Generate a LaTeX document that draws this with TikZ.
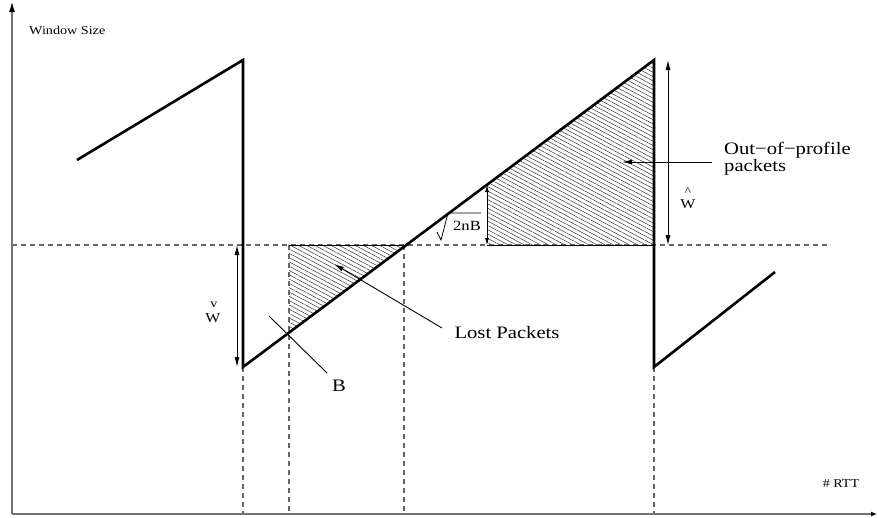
\documentclass[tikz,border=0pt]{standalone}
\usepackage{fontspec}
\setmainfont{Liberation Serif}[FakeStretch=1.18]
\usetikzlibrary{arrows.meta,patterns.meta}

\begin{document}
\begin{tikzpicture}[x=1pt, y=-1pt, >={Latex[length=10pt,width=5pt]},
  every node/.style={inner sep=0pt},
  axis/.style={black!55, line width=1.8pt},
  curve/.style={line width=2.6pt, line join=miter},
  guide/.style={black!60, line width=1.1pt, dash pattern=on 5pt off 4pt},
  hatch/.style={pattern={Lines[angle=-28,distance=3.8pt,line width=0.55pt]}, pattern color=black!75},
  dim/.style={<->, line width=0.9pt},
  lead/.style={line width=0.9pt},
  lbl/.style={font=\fontsize{17.5}{17}\selectfont},
  mid/.style={font=\fontsize{13.5}{14}\selectfont},
  small/.style={font=\fontsize{12}{13}\selectfont}]
  \useasboundingbox (0,0) rectangle (877,517);
  % points of the sawtooth
  \coordinate (s0) at (77,160);
  \coordinate (s1) at (243,60);
  \coordinate (s2) at (243,367);
  \coordinate (s3) at (654,60);
  \coordinate (s4) at (654,367);
  \coordinate (s5) at (775,272);
  \coordinate (lost) at (289,333);
  \coordinate (lb) at (289,245);
  \coordinate (cross) at (404,245);
  \coordinate (q) at (487,185);
  \coordinate (qb) at (487,245);
  \coordinate (sb) at (654,245);
  \coordinate (org) at (12,514);
  \coordinate (ytop) at (12,1);
  \coordinate (xend) at (877,514);
  \coordinate (lvl) at (12,245);
  \coordinate (lvlend) at (830,245);

  % hatched areas
  \fill[hatch] (lb) -- (cross) -- (lost) -- cycle;
  \fill[hatch] (qb) -- (q) -- (s3) -- (sb) -- cycle;

  % dashed guides
  \draw[guide] (lvl) -- (lvlend);
  \draw[guide] (s2) -- (s2 |- org);
  \draw[guide] (lb) -- (lb |- org);
  \draw[guide] (cross) -- (cross |- org);
  \draw[guide] (s4) -- (s4 |- org);
  \draw[line width=0.8pt] (lb) -- (cross);
  \draw[line width=0.8pt] (qb) -- (sb);

  % axes
  \draw[axis, -{Latex[length=11pt,width=6pt,color=black]}] (org) -- (ytop);
  \draw[axis, -{Latex[length=6pt,width=5pt,color=black]}] (org) -- (xend);
  \node[small, anchor=west] (ylab) at (29,30) {Window Size};
  \node[small] (xlab) at (841,484) {\# RTT};

  % window curve
  \draw[curve] (s0) -- (s1) -- (s2) -- (s3) -- (s4) -- (s5);

  % heights
  \draw[dim] (237,245) -- (237,367);
  \node[mid] (wv) at (213,318) {W};
  \node[small] (wvmark) at (214,305) {v};
  \draw[dim] (668,60) -- (668,245);
  \node[mid] (wh) at (688,204) {W};
  \node[small] (whmark) at (688,192) {\textasciicircum};
  \draw[<->, line width=0.9pt, >={Latex[length=7pt,width=4pt]}] (q) -- (qb);
  \node[font=\fontsize{14}{15}\selectfont] (nb) at (467,226) {2nB};
  \draw[line width=0.8pt] (437,232) -- (441,240) -- (448,213) -- (481,213);

  % labels and leaders
  \node[lbl] (lp) at (507,333) {Lost Packets};
  \coordinate (lpfoot) at (442,328);
  \coordinate (lptip) at (334,264);
  \draw[lead, ->] (lpfoot) -- (lptip);
  \node[lbl, anchor=west, align=left] (op) at (724,159) {Out−of−profile\\packets};
  \coordinate (opfoot) at (712,162);
  \coordinate (optip) at (622,162);
  \draw[lead, ->] (opfoot) -- (optip);
  \node[lbl] (bl) at (339,386) {B};
  \coordinate (bfoot) at (327,373);
  \coordinate (btop) at (269,316);
  \draw[lead] (bfoot) -- (btop);
\end{tikzpicture}
\end{document}
